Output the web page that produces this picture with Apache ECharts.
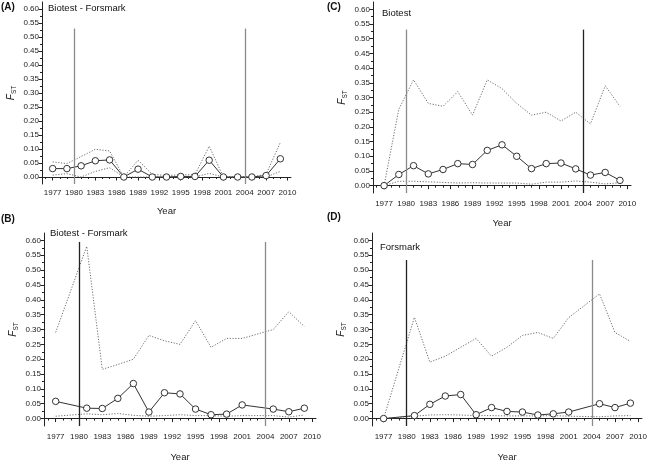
<!DOCTYPE html>
<html><head><meta charset="utf-8">
<script src="https://cdn.jsdelivr.net/npm/echarts@6/dist/echarts.min.js"></script>
<style>html,body{margin:0;padding:0;background:#fff}#c{width:650px;height:463px}</style>
</head><body><div id="c"></div>
<script>
// ---- data ----
const yearsAC = [1977,1979,1981,1983,1985,1987,1989,1991,1993,1995,1997,1999,2001,2003,2005,2007,2009];
const yearsBD = [1977,1981,1983,1985,1987,1989,1991,1993,1995,1997,1999,2001,2005,2007,2009];

const meanA  = [0.030,0.030,0.040,0.058,0.061,0.000,0.028,0.000,0.000,0.002,0.002,0.060,0.000,0.000,0.000,0.005,0.065];
const upperA = [0.054,0.048,0.073,0.099,0.093,0.000,0.060,0.010,0.005,0.008,0.008,0.110,0.000,0.000,0.000,0.010,0.123];
const lowerA = [0.007,0.012,0.000,0.020,0.033,0.000,0.000,0.000,0.000,0.000,0.000,0.013,0.000,0.000,0.000,0.000,0.020];

const meanC  = [0.000,0.038,0.068,0.040,0.055,0.075,0.072,0.120,0.139,0.100,0.058,0.075,0.077,0.057,0.036,0.045,0.018];
const upperC = [0.000,0.260,0.360,0.280,0.270,0.320,0.240,0.360,0.330,0.280,0.240,0.250,0.220,0.250,0.210,0.340,0.270];
const lowerC = [0.000,0.015,0.015,0.013,0.011,0.009,0.010,0.009,0.009,0.009,0.005,0.012,0.012,0.016,0.012,0.006,0.010];

const meanB  = [0.058,0.035,0.034,0.068,0.118,0.022,0.087,0.083,0.032,0.013,0.015,0.046,0.032,0.023,0.035];
const upperB = [0.290,0.580,0.166,0.182,0.200,0.280,0.262,0.250,0.330,0.240,0.270,0.270,0.300,0.360,0.310];
const lowerB = [0.008,0.016,0.013,0.017,0.011,0.008,0.010,0.013,0.010,0.010,0.008,0.010,0.010,0.005,0.012];

const meanD  = [0.000,0.010,0.048,0.076,0.081,0.013,0.037,0.024,0.022,0.012,0.016,0.022,0.050,0.037,0.052];
const upperD = [0.000,0.341,0.190,0.210,0.240,0.270,0.210,0.240,0.280,0.290,0.270,0.340,0.420,0.290,0.260];
const lowerD = [0.000,0.008,0.012,0.013,0.012,0.010,0.010,0.009,0.009,0.009,0.010,0.008,0.006,0.009,0.010];

const eventYears = [1980, 2004];
const eventTopA = 0.53, eventTopB = 0.595, eventTopC = 0.531, eventTopD = 0.534;

const xTickYears = [1977,1980,1983,1986,1989,1992,1995,1998,2001,2004,2007,2010];
const xMinorYears = [1976,1978,1979,1981,1982,1984,1985,1987,1988,1990,1991,1993,1994,1996,1997,1999,2000,2002,2003,2005,2006,2008,2009];
const yTickValues = [0,0.05,0.10,0.15,0.20,0.25,0.30,0.35,0.40,0.45,0.50,0.55,0.60];
const yMinorValues = [0.025,0.075,0.125,0.175,0.225,0.275,0.325,0.375,0.425,0.475,0.525,0.575];

const panelLetters = ['(A)','(B)','(C)','(D)'];
const panelNames = ['Biotest - Forsmark','Biotest - Forsmark','Biotest','Forsmark'];

// ---- layout / styling ----
const FONT = 'Liberation Sans, Arial, sans-serif';
const X_MIN = 1975.5, X_MAX = 2010.5, Y_MIN = -0.025, Y_MAX = 0.625;

const panels = [
  {years: yearsAC, mean: meanA, upper: upperA, lower: lowerA, top: eventTopA,
   grid: {left: 42, top: 2, width: 249, height: 182}, lineColors: ['#8a8a8a','#8a8a8a'],
   yearGap: 22, labelMargin: 5},
  {years: yearsBD, mean: meanB, upper: upperB, lower: lowerB, top: eventTopB,
   grid: {left: 44, top: 233, width: 272, height: 198}, lineColors: ['#222','#8a8a8a'],
   yearGap: 26, labelMargin: 7},
  {years: yearsAC, mean: meanC, upper: upperC, lower: lowerC, top: eventTopC,
   grid: {left: 373, top: 2, width: 258, height: 191}, lineColors: ['#8a8a8a','#222'],
   yearGap: 25, labelMargin: 7},
  {years: yearsBD, mean: meanD, upper: upperD, lower: lowerD, top: eventTopD,
   grid: {left: 372, top: 233, width: 276, height: 198}, lineColors: ['#222','#8a8a8a'],
   yearGap: 26, labelMargin: 7}
];

const zip = (xs, ys) => xs.map((x, i) => [x, ys[i]]);

const grids = [], xAxes = [], yAxes = [], series = [];
panels.forEach((p, i) => {
  grids.push(Object.assign({containLabel: false}, p.grid));
  const xi = 2 * i;
  xAxes.push({
    gridIndex: i, type: 'value', min: X_MIN, max: X_MAX, position: 'bottom',
    splitLine: {show: false},
    axisLine: {lineStyle: {color: '#222', width: 1}},
    axisTick: {inside: false, length: 3.5, lineStyle: {color: '#222'}, customValues: xTickYears},
    axisLabel: {customValues: xTickYears, color: '#222', fontSize: 8, fontFamily: FONT, margin: p.labelMargin,
      formatter: v => String(Math.round(v))},
    name: 'Year', nameLocation: 'middle', nameGap: p.yearGap,
    nameTextStyle: {fontSize: 9.5, color: '#222', fontFamily: FONT}
  });
  xAxes.push({
    gridIndex: i, type: 'value', min: X_MIN, max: X_MAX, position: 'bottom',
    splitLine: {show: false}, axisLine: {show: false},
    axisTick: {inside: false, length: 2, lineStyle: {color: '#222'}, customValues: xMinorYears},
    axisLabel: {show: false}
  });
  yAxes.push({
    gridIndex: i, type: 'value', min: Y_MIN, max: Y_MAX, position: 'left',
    splitLine: {show: false},
    axisLine: {show: true, lineStyle: {color: '#222', width: 1}},
    axisTick: {show: true, inside: false, length: 3.5, lineStyle: {color: '#222'}, customValues: yTickValues},
    axisLabel: {customValues: yTickValues, color: '#222', fontSize: 8, fontFamily: FONT, margin: 3,
      formatter: v => v.toFixed(2)},
    name: '{f|F}{s|ST}', nameLocation: 'middle', nameRotate: 90, nameGap: 24,
    nameTextStyle: {
      rich: {
        f: {fontSize: 10, fontStyle: 'italic', color: '#222', fontFamily: FONT, lineHeight: 12, verticalAlign: 'top'},
        s: {fontSize: 6.5, color: '#222', fontFamily: FONT, lineHeight: 12, verticalAlign: 'bottom'}
      }
    }
  });
  yAxes.push({
    gridIndex: i, type: 'value', min: Y_MIN, max: Y_MAX, position: 'left',
    splitLine: {show: false}, axisLine: {show: false},
    axisTick: {show: true, inside: false, length: 2, lineStyle: {color: '#222'}, customValues: yMinorValues},
    axisLabel: {show: false}
  });

  const dotted = {color: '#6e6e6e', width: 1, type: [1.2, 1.6]};
  series.push({
    type: 'line', xAxisIndex: xi, yAxisIndex: xi, data: zip(p.years, p.upper),
    symbol: 'none', lineStyle: dotted, z: 2, silent: true
  });
  series.push({
    type: 'line', xAxisIndex: xi, yAxisIndex: xi, data: zip(p.years, p.lower),
    symbol: 'none', lineStyle: dotted, z: 2, silent: true
  });
  series.push({
    type: 'line', xAxisIndex: xi, yAxisIndex: xi, data: zip(p.years, p.mean),
    symbol: 'circle', symbolSize: 6.5,
    itemStyle: {color: '#fff', borderColor: '#333', borderWidth: 1},
    lineStyle: {color: '#333', width: 1}, z: 4, silent: true,
    markLine: {
      silent: true, symbol: 'none', label: {show: false}, animation: false,
      data: eventYears.map((yr, k) => [
        {coord: [yr, Y_MIN], lineStyle: {color: p.lineColors[k], width: 1.3, type: 'solid'}},
        {coord: [yr, p.top]}
      ])
    }
  });
});

const txt = (left, top, text, size, bold) => ({
  type: 'text', left, top,
  style: {text, fontSize: size, fontWeight: bold ? 'bold' : 'normal', fill: '#111', fontFamily: FONT}
});

const graphic = [
  txt(1, 2, panelLetters[0], 10, true),
  txt(1, 214, panelLetters[1], 10, true),
  txt(327, 2, panelLetters[2], 10, true),
  txt(327, 212, panelLetters[3], 10, true),
  txt(48, 3, panelNames[0], 9.5, false),
  txt(50, 228, panelNames[1], 9.5, false),
  txt(382, 8, panelNames[2], 9.5, false),
  txt(380, 242, panelNames[3], 9.5, false)
];

const chart = echarts.init(document.getElementById('c'), null, {renderer: 'canvas'});
chart.setOption({
  animation: false,
  backgroundColor: '#fff',
  grid: grids, xAxis: xAxes, yAxis: yAxes, series, graphic
});
</script></body></html>
